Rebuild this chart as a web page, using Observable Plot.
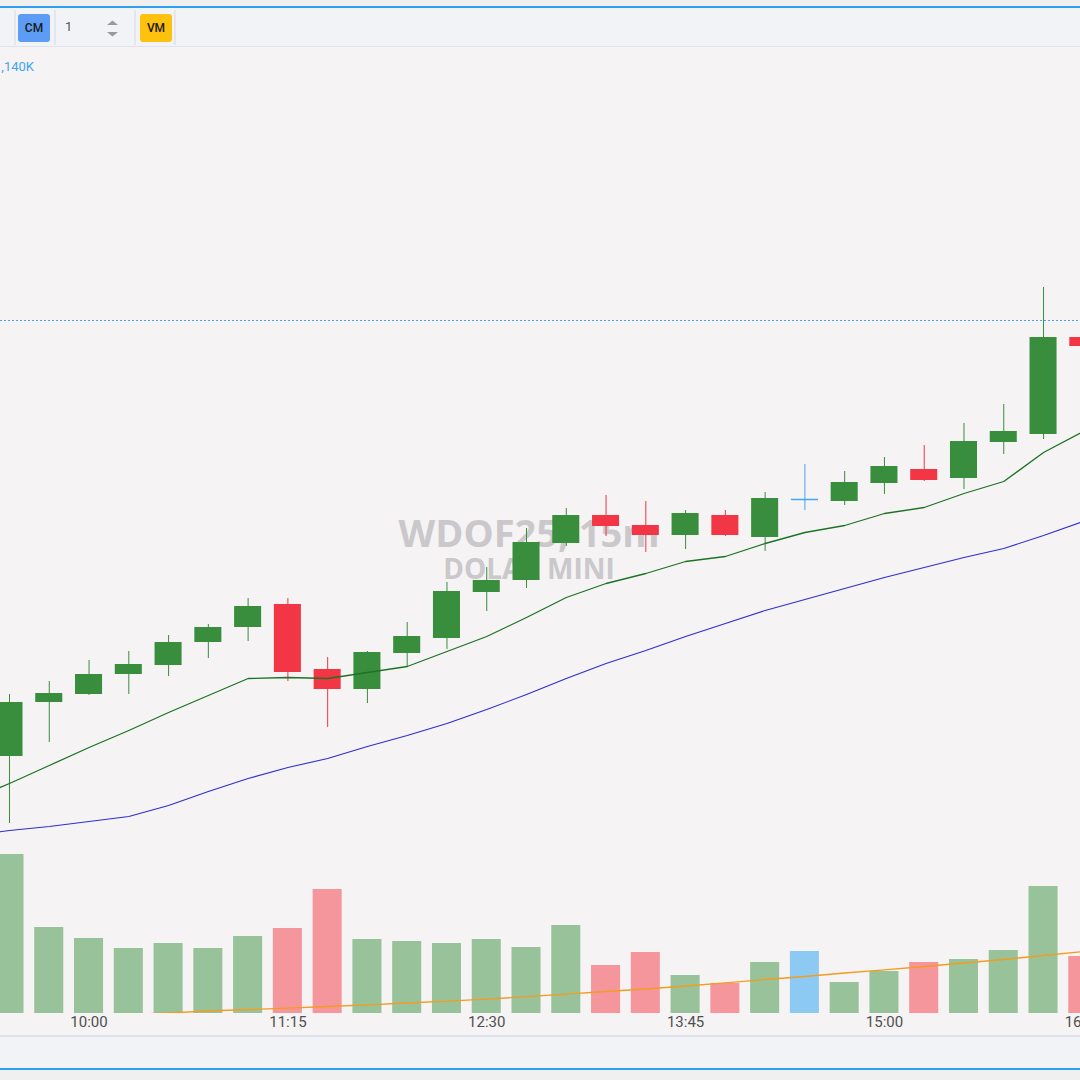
<!DOCTYPE html>
<html><head><meta charset="utf-8">
<script src="https://cdn.jsdelivr.net/npm/d3@7"></script>
<script src="https://cdn.jsdelivr.net/npm/@observablehq/plot@0.6"></script>
<style>
html,body{margin:0;padding:0;background:#f0f0f0;width:1080px;height:1080px;overflow:hidden;font-family:Roboto,"Noto Sans",sans-serif;}
.abs{position:absolute;}
#topline{left:0;top:6px;width:1080px;height:2px;background:#2f9ff0;}
#toolbar{left:0;top:8px;width:1080px;height:38px;background:#f2f3f7;border-bottom:1px solid #e0e3eb;}
.sep{position:absolute;top:2px;width:2px;height:35px;background:#e4e6ec;}
.btn{position:absolute;top:6px;width:32px;height:28px;border-radius:3px;font-size:12px;line-height:28px;text-align:center;color:#1a1a1a;font-weight:500;}
#chart{left:0;top:47px;width:1080px;height:988px;background:#f5f3f4;overflow:hidden;}
#chart svg{position:absolute;left:0;top:0;}
.wm{position:absolute;left:129px;width:800px;text-align:center;font-family:"Open Sans",sans-serif;font-weight:700;color:#cac8cb;white-space:nowrap;}
#botborder{left:0;top:1035px;width:1080px;height:2px;background:#e0e3eb;}
#botbar{left:0;top:1037px;width:1080px;height:31px;background:#f2f3f7;}
#botline{left:0;top:1068px;width:1080px;height:2px;background:#2f9ff0;}
</style></head>
<body>
<div id="topline" class="abs"></div>
<div id="toolbar" class="abs">
  <div class="sep" style="left:14px"></div>
  <div class="btn" style="left:18px;background:#5c9cf5;">CM</div>
  <div class="sep" style="left:54px"></div>
  <div style="position:absolute;left:65px;top:11px;font-size:13px;line-height:16px;color:#555;">1</div>
  <svg style="position:absolute;left:106px;top:12px" width="13" height="18">
    <polygon points="1,5 6.5,0.5 12,5" fill="#9a9a9e"/>
    <polygon points="1,12 6.5,16.5 12,12" fill="#9a9a9e"/>
  </svg>
  <div class="sep" style="left:134px"></div>
  <div class="btn" style="left:140px;background:#fdc10e;">VM</div>
  <div class="sep" style="left:174px"></div>
</div>
<div id="chart" class="abs">
  <div style="position:absolute;right:1046px;top:13px;font-size:13px;line-height:13px;color:#3fa5f0;white-space:nowrap;">1,140K</div>
  <div class="wm" style="top:466px;font-size:38px;line-height:38px;">WDOF25, 15m</div>
  <div class="wm" style="top:507px;font-size:28px;line-height:28px;">DOLAR MINI</div>
</div>
<div id="botborder" class="abs"></div>
<div id="botbar" class="abs"></div>
<div id="botline" class="abs"></div>
<script>
// 15-minute bars (09:15 only carries the moving averages)
const times = ["09:15","09:30","09:45","10:00","10:15","10:30","10:45","11:00","11:15","11:30","11:45","12:00","12:15","12:30","12:45","13:00","13:15","13:30","13:45","14:00","14:15","14:30","14:45","15:00","15:15","15:30","15:45","16:00","16:15"];
const candleTimes = times.slice(1);
const open  = [5962,5989,5993,6003,6007.5,6019,6026.5,6038,6005.5,5995.5,6013.5,6021,6044,6050,6068.5,6082.5,6077.5,6072.5,6082.5,6071.5,6090.5,6089.5,6098.5,6105.5,6101,6119,6123,6171.5];
const high  = [5993,5999.5,6010,6014.5,6022.5,6028,6041,6041,6011.5,6014.5,6029,6049,6056.5,6076,6086,6092.5,6089.5,6085,6085,6094,6108,6104.5,6111.5,6117.5,6128.5,6138,6196.5,6175];
const low   = [5928.5,5969,5992.5,5993,6002,6011,6019.5,5999.5,5976.5,5988.5,6007,6015.5,6034.5,6046,6067,6072,6064,6065.5,6072,6064.5,6085,6087.5,6093,6099.5,6095.5,6113,6120.5,6165];
const close = [5989,5993.5,6003,6008,6019,6026.5,6037,6004,5995.5,6014,6022,6044.5,6050,6069,6082.5,6077,6072.5,6083.5,6072.5,6091,6090.5,6099,6107,6100,6119.5,6124.5,6171.5,6167];
const volume = [159,86,75,65,70,65,77,85,124,74,72,70,74,66,88,48,61,38,30,51,62,31,42,51,54,63,127,57]; // thousands
const volIndicator = [null,null,null,-0.8,0.5,2.5,4,5.3,7,8.7,10.5,12.4,14.3,16.8,19.4,22,24.5,27.5,30.7,34,37,40.5,43.7,47,50.5,54,58,62];
const emaValues = [5940,5948.5,5957.5,5966.5,5975,5984,5992.5,6001,6001.5,6001,6004,6007,6014.5,6022,6031.5,6041.5,6048.5,6053.5,6059.5,6062,6068.5,6074,6077.5,6083.5,6086.5,6093.5,6099.5,6114,6124.5];
const smaValues = [5922.5,5925,5927,5929.5,5932,5937.5,5944.5,5951,5956.5,5961,5967,5972.5,5978.5,5985.5,5993,6001,6008.5,6015,6022,6028.5,6035,6040.5,6046,6051.5,6056.5,6061.5,6066,6072.5,6079.5];
const tickLabels = ["10:00","11:15","12:30","13:45","15:00","16:15"];
const refLevel = 6180;

const candles = candleTimes.map((t,i)=>({t,o:open[i],h:high[i],l:low[i],c:close[i],v:volume[i],
  dir: close[i]>open[i]?"up":close[i]<open[i]?"down":"flat"}));
const candleColor = {up:"#388e3c",down:"#f23645",flat:"#42a5f5"};
const volColor = {up:"#98c299",down:"#f4969b",flat:"#8ccaf4"};
const ema = times.map((t,i)=>({t,v:emaValues[i]}));
const sma = times.map((t,i)=>({t,v:smaValues[i]}));
const vind = candleTimes.map((t,i)=>({t,v:volIndicator[i]})).filter(d=>d.v!==null);

const xOpts = {type:"band",domain:times,range:[-50.66,1102.69],paddingInner:0.27,paddingOuter:0.135,round:false};

const volPlot = Plot.plot({
  width:1080,height:988,marginLeft:0,marginRight:0,marginTop:0,marginBottom:22,
  style:{background:"transparent",fontFamily:"Roboto, sans-serif",fontSize:"15px",color:"#505050",overflow:"hidden"},
  x:{...xOpts,ticks:tickLabels,tickFormat:d=>tickLabels.includes(d)?d:"",tickSize:0,tickPadding:3,label:null},
  y:{domain:[0,200],range:[966,766],axis:null},
  color:{type:"identity"},
  marks:[
    Plot.barY(candles,{x:"t",y:"v",fill:d=>volColor[d.dir]}),
    Plot.line(vind,{x:"t",y:"v",stroke:"#f39c1f",strokeWidth:1.3,clip:true})
  ]
});

const pricePlot = Plot.plot({
  width:1080,height:988,marginLeft:0,marginRight:0,marginTop:0,marginBottom:0,
  style:{background:"transparent",overflow:"hidden"},
  x:{...xOpts,axis:null},
  y:{domain:[5900,6200],range:[833,233],axis:null},
  color:{type:"identity"},
  marks:[
    Plot.ruleY([refLevel],{stroke:"#42a5f5",strokeDasharray:"2,2",strokeWidth:1}),
    Plot.ruleX(candles,{x:"t",y1:"l",y2:"h",stroke:d=>candleColor[d.dir],strokeWidth:1}),
    Plot.barY(candles.filter(d=>d.dir!=="flat"),{x:"t",y1:"o",y2:"c",fill:d=>candleColor[d.dir],insetLeft:1,insetRight:1}),
    Plot.tickY(candles.filter(d=>d.dir==="flat"),{x:"t",y:"o",stroke:d=>candleColor[d.dir],strokeWidth:1.5,insetLeft:1,insetRight:1}),
    Plot.line(sma,{x:"t",y:"v",stroke:"#2d2dd2",strokeWidth:1.1}),
    Plot.line(ema,{x:"t",y:"v",stroke:"#1d7324",strokeWidth:1.3})
  ]
});

const chart = document.getElementById("chart");
chart.appendChild(volPlot);
chart.appendChild(pricePlot);
</script>
</body></html>
